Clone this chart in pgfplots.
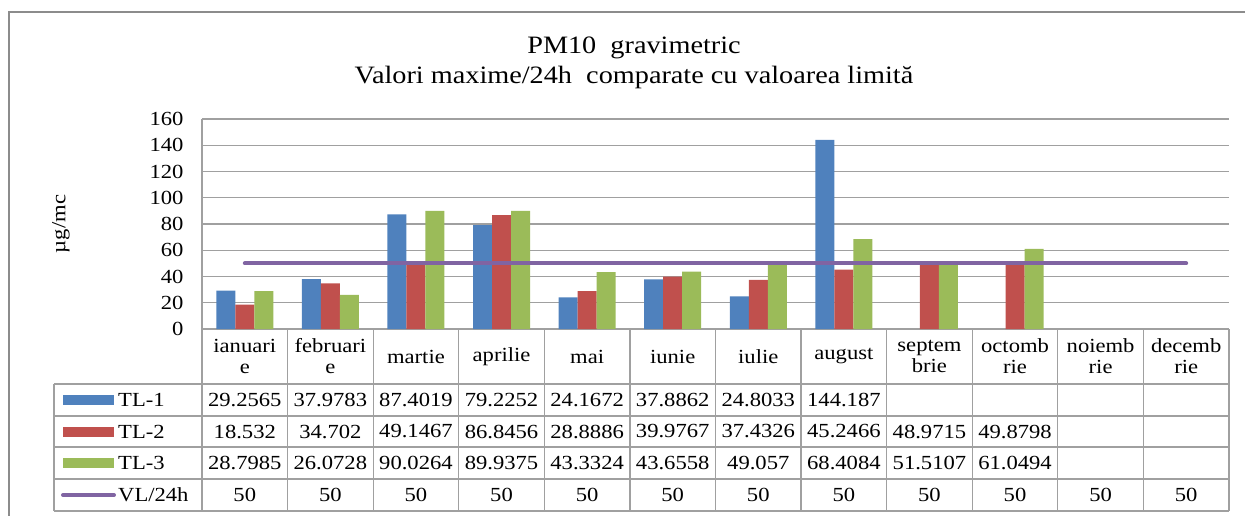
\documentclass[border=0pt]{standalone}
\usepackage{fontspec}
\setmainfont{Liberation Serif}[FakeStretch=1.13]
\usepackage{pgfplots}
\usepackage{pgfplotstable}
\pgfplotsset{compat=1.18}
\definecolor{cb}{HTML}{4F81BD}
\definecolor{cr}{HTML}{C0504D}
\definecolor{cg}{HTML}{9BBB59}
\definecolor{cp}{HTML}{8064A2}
\definecolor{gridc}{HTML}{A0A0A0}
\definecolor{framec}{HTML}{8C8C8C}

\pgfplotstableread{
x tla tlb tlc vl
0 29.2565 18.532 28.7985 50
1 37.9783 34.702 26.0728 50
2 87.4019 49.1467 90.0264 50
3 79.2252 86.8456 89.9375 50
4 24.1672 28.8886 43.3324 50
5 37.8862 39.9767 43.6558 50
6 24.8033 37.4326 49.057 50
7 144.187 45.2466 68.4084 50
8 nan 48.9715 51.5107 50
9 nan 49.8798 61.0494 50
10 nan nan nan 50
11 nan nan nan 50
}\datatable

\begin{document}
\begin{tikzpicture}[x=1pt,y=1pt]
\path[use as bounding box] (-202,-186) rectangle (1043,329);
% outer frame
\draw[framec, line width=1.8pt] (-193,-200) -- (-193,317) -- (1060,317);
\begin{axis}[
  at={(0,0)}, anchor=south west,
  scale only axis, width=1027pt, height=210pt,
  xmin=-0.5, xmax=11.5, ymin=0, ymax=160,
  ytick={0,20,...,160},
  xtick={0,...,11},
  xticklabels={{ianuari\\e},{februari\\e},martie,aprilie,mai,iunie,iulie,august,{septem\\brie},{octomb\\rie},{noiemb\\rie},{decemb\\rie}},
  xticklabel style={align=center, anchor=center, yshift=-27.5pt, font=\fontsize{20}{21}\selectfont},
  yticklabel style={anchor=east, xshift=-15pt, font=\fontsize{20}{24}\selectfont},
  /pgf/number format/assume math mode=true,
  major tick length=0pt,
  axis x line*=bottom, axis y line*=left,
  axis line style={gridc, line width=1.3pt, -},
  ymajorgrids, grid style={gridc, line width=1.3pt},
  clip=false,
]
\addplot[ybar, bar width=19pt, bar shift=-19pt, fill=cb, draw=none] table[x=x,y=tla]{\datatable};
\addplot[ybar, bar width=19pt, bar shift=0pt, fill=cr, draw=none] table[x=x,y=tlb]{\datatable};
\addplot[ybar, bar width=19pt, bar shift=19pt, fill=cg, draw=none] table[x=x,y=tlc]{\datatable};
\addplot[sharp plot, cp, line width=4pt, line cap=round, mark=none] table[x=x,y=vl]{\datatable};
\end{axis}
% titles
\node[anchor=base, font=\fontsize{25}{30}\selectfont] at (432,276) {PM10\ \ gravimetric};
\node[anchor=base, font=\fontsize{25}{30}\selectfont] at (432,246) {Valori maxime/24h\ \ comparate cu valoarea limită};
\node[rotate=90, font=\fontsize{20}{24}\selectfont] at (-141,105) {µg/mc};
% data table grid
\begin{scope}[gridc, line width=1.3pt]
\foreach \yy in {-55,-87,-118,-150,-182} \draw (-148,\yy) -- (1027,\yy);
\draw (-148,-55) -- (-148,-182);
\foreach \k in {0,...,12} \draw ({\k*85.583},0) -- ({\k*85.583},-182);
\end{scope}
% legend keys
\fill[cb] (-139,-76) rectangle (-88,-66);
\fill[cr] (-139,-107.5) rectangle (-88,-97.5);
\fill[cg] (-139,-139) rectangle (-88,-129);
\draw[cp, line width=4pt, line cap=round] (-139,-166) -- (-88,-166);
\begin{scope}[font=\fontsize{20}{24}\selectfont]
\node[anchor=west, inner sep=0pt] at (-84,-71) {TL-1};
\node[anchor=west, inner sep=0pt] at (-84,-102.5) {TL-2};
\node[anchor=west, inner sep=0pt] at (-84,-134) {TL-3};
\node[anchor=west, inner sep=0pt] at (-84,-166) {VL/24h};
\foreach \v [count=\i from 0] in {29.2565,37.9783,87.4019,79.2252,24.1672,37.8862,24.8033,144.187}
  \node at ({(\i+0.5)*85.583},-71) {\v};
\foreach \v [count=\i from 0] in {18.532,34.702,49.1467,86.8456,28.8886,39.9767,37.4326,45.2466,48.9715,49.8798}
  \node at ({(\i+0.5)*85.583},-102.5) {\v};
\foreach \v [count=\i from 0] in {28.7985,26.0728,90.0264,89.9375,43.3324,43.6558,49.057,68.4084,51.5107,61.0494}
  \node at ({(\i+0.5)*85.583},-134) {\v};
\foreach \i in {0,...,11}
  \node at ({(\i+0.5)*85.583},-166) {50};
\end{scope}
\end{tikzpicture}
\end{document}
